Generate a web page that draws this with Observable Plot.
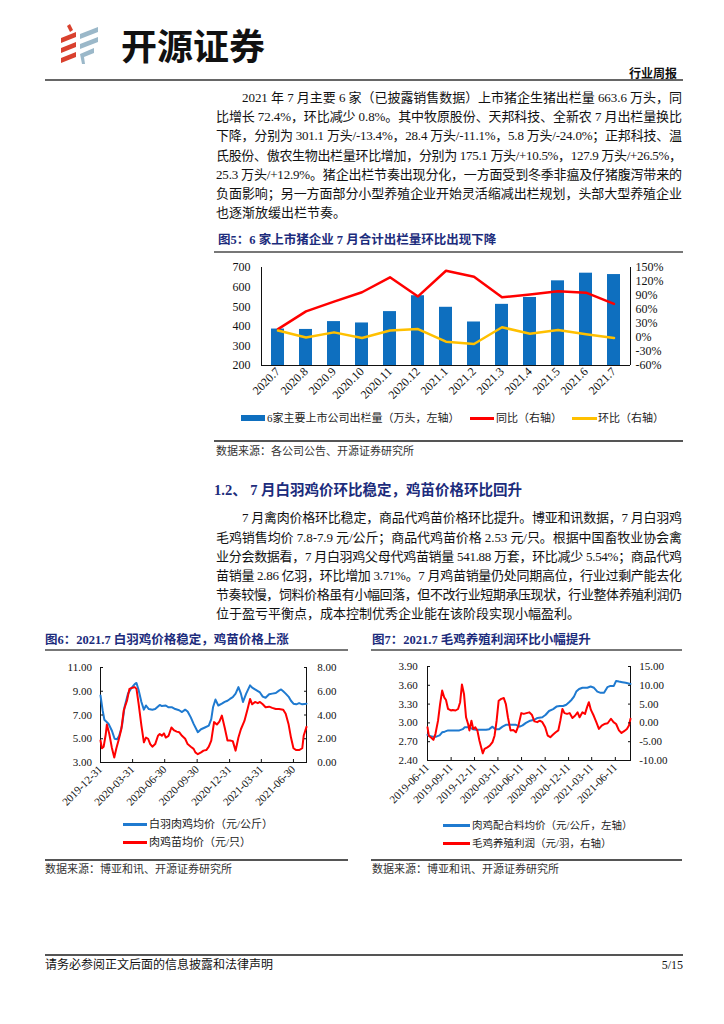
<!DOCTYPE html>
<html><head><meta charset="utf-8">
<script src="https://cdn.jsdelivr.net/npm/d3@7"></script>
<script src="https://cdn.jsdelivr.net/npm/@observablehq/plot@0.6"></script>
<style>
body{margin:0;width:724px;height:1024px;position:relative;background:#fff;font-family:"Liberation Serif","Noto Sans CJK SC",serif;color:#111;overflow:hidden}
.abs{position:absolute}
.para{position:absolute;left:216px;width:466px;font-size:13px;line-height:19.2px}
.para div{white-space:nowrap;height:19.2px}
.ind{padding-left:26px}
.ttl{position:absolute;font-weight:bold;color:#1c2c7c;font-size:12.5px;line-height:14px;white-space:nowrap}
.rule{position:absolute;background:#777;height:1.5px}
.src{position:absolute;font-size:11px;line-height:13px;color:#333;white-space:nowrap}
.lg{position:absolute;font-size:11px;line-height:13px;color:#222;white-space:nowrap}
.sw{position:absolute}
svg{overflow:visible}
</style></head>
<body>
<svg class="abs" style="left:58px;top:24px" width="44" height="42" viewBox="0 0 44 42">
  <polygon points="9,2 12,0 15,6 12,8" fill="#d9412e"/>
  <polygon points="3,14 18,8 18,13 3,19" fill="#d9412e"/>
  <polygon points="3,24 18,18 18,23 3,29" fill="#d9412e"/>
  <polygon points="3,34 18,28 18,33 3,39" fill="#d9412e"/>
  <polygon points="22,10 40,3 40,8 22,15" fill="#9bb8c9"/>
  <polygon points="22,20 40,13 40,18 22,25" fill="#9bb8c9"/>
  <polygon points="22,30 36,24 36,29 26,33 27,40 24,40" fill="#9bb8c9"/>
</svg>
<div class="abs" style="left:121px;top:25px;font:bold 36px/38px 'Noto Sans CJK SC';color:#111;letter-spacing:0px">开源证券</div>
<div class="abs" style="right:47px;top:66px;font:bold 12px/14px 'Noto Sans CJK SC';color:#111">行业周报</div>
<div class="abs" style="left:45px;top:79px;width:638px;height:2px;background:#666"></div>

<div class="para" style="top:88px">
<div class="j ind">2021 年 7 月主要 6 家（已披露销售数据）上市猪企生猪出栏量 663.6 万头，同</div>
<div class="j">比增长 72.4%，环比减少 0.8%。其中牧原股份、天邦科技、全新农 7 月出栏量换比</div>
<div class="j">下降，分别为 301.1 万头/-13.4%，28.4 万头/-11.1%，5.8 万头/-24.0%；正邦科技、温</div>
<div class="j">氏股份、傲农生物出栏量环比增加，分别为 175.1 万头/+10.5%，127.9 万头/+26.5%，</div>
<div class="j">25.3 万头/+12.9%。猪企出栏节奏出现分化，一方面受到冬季非瘟及仔猪腹泻带来的</div>
<div class="j">负面影响；另一方面部分小型养殖企业开始灵活缩减出栏规划，头部大型养殖企业</div>
<div>也逐渐放缓出栏节奏。</div>
</div>

<div class="ttl" style="left:218px;top:233px">图5：6 家上市猪企业 7 月合计出栏量环比出现下降</div>
<div class="rule" style="left:214px;top:251px;width:469px"></div>
<div id="c5" class="abs" style="left:214px;top:255px"></div>
<div class="sw" style="left:241px;top:415px;width:24px;height:6px;background:#0e6fbf"></div>
<div class="lg" style="left:267px;top:411.5px">6家主要上市公司出栏量（万头，左轴）</div>
<div class="sw" style="left:470px;top:417px;width:24px;height:2.5px;background:#ff0000"></div>
<div class="lg" style="left:496px;top:411.5px">同比（右轴）</div>
<div class="sw" style="left:572px;top:417px;width:25px;height:2.5px;background:#ffc000"></div>
<div class="lg" style="left:598px;top:411.5px">环比（右轴）</div>
<div class="rule" style="left:214px;top:440px;width:469px;background:#555"></div>
<div class="src" style="left:216px;top:444.5px">数据来源：各公司公告、开源证券研究所</div>

<div class="ttl" style="left:214px;top:482px;font-size:14.5px;line-height:16px">1.2、 7 月白羽鸡价环比稳定，鸡苗价格环比回升</div>

<div class="para" style="top:508.4px">
<div class="j ind">7 月禽肉价格环比稳定，商品代鸡苗价格环比提升。博亚和讯数据，7 月白羽鸡</div>
<div class="j">毛鸡销售均价 7.8-7.9 元/公斤；商品代鸡苗价格 2.53 元/只。根据中国畜牧业协会禽</div>
<div class="j">业分会数据看，7 月白羽鸡父母代鸡苗销量 541.88 万套，环比减少 5.54%；商品代鸡</div>
<div class="j">苗销量 2.86 亿羽，环比增加 3.71%。7 月鸡苗销量仍处同期高位，行业过剩产能去化</div>
<div class="j">节奏较慢，饲料价格虽有小幅回落，但不改行业短期承压现状，行业整体养殖利润仍</div>
<div>位于盈亏平衡点，成本控制优秀企业能在该阶段实现小幅盈利。</div>
</div>

<div class="ttl" style="left:45px;top:633px">图6：2021.7 白羽鸡价格稳定，鸡苗价格上涨</div>
<div class="rule" style="left:45px;top:649px;width:303px"></div>
<div class="ttl" style="left:372px;top:633px">图7：2021.7 毛鸡养殖利润环比小幅提升</div>
<div class="rule" style="left:371px;top:649px;width:311px"></div>
<div id="c6" class="abs" style="left:45px;top:655px"></div>
<div id="c7" class="abs" style="left:370px;top:655px"></div>
<div class="sw" style="left:123px;top:823px;width:24px;height:2.5px;background:#1f7ad0"></div>
<div class="lg" style="left:149px;top:817.5px">白羽肉鸡均价（元/公斤）</div>
<div class="sw" style="left:123px;top:841px;width:24px;height:2.5px;background:#ff0000"></div>
<div class="lg" style="left:149px;top:835.5px">肉鸡苗均价（元/只）</div>
<div class="sw" style="left:443px;top:824px;width:27px;height:2.5px;background:#1f7ad0"></div>
<div class="lg" style="left:472px;top:818.5px;font-size:10.5px">肉鸡配合料均价（元/公斤，左轴）</div>
<div class="sw" style="left:443px;top:842px;width:27px;height:2.5px;background:#ff0000"></div>
<div class="lg" style="left:472px;top:836.5px;font-size:10.5px">毛鸡养殖利润（元/羽，右轴）</div>
<div class="rule" style="left:45px;top:859px;width:303px;background:#555"></div>
<div class="rule" style="left:371px;top:859px;width:311px;background:#555"></div>
<div class="src" style="left:45px;top:862.5px">数据来源：博亚和讯、开源证券研究所</div>
<div class="src" style="left:372px;top:862.5px">数据来源：博亚和讯、开源证券研究所</div>

<div class="abs" style="left:45px;top:954px;width:638px;height:2px;background:#555"></div>
<div class="abs" style="left:45px;top:958px;font-size:12px;line-height:14px;color:#111">请务必参阅正文后面的信息披露和法律声明</div>
<div class="abs" style="right:41px;top:958px;font-size:12px;line-height:14px;color:#111">5/15</div>

<script>
// ---------- Figure 5 data ----------
const months5 = ["2020.7","2020.8","2020.9","2020.10","2020.11","2020.12","2021.1","2021.2","2021.3","2021.4","2021.5","2021.6","2021.7"];
const volume5 = [386,384,424,417,475,556,497,422,512,547,632,671,664];
const yoy5 = [18,56,77,97,129,88,143,130,86,92,99,96,72];
const mom5 = [15,0,11,-1,15,18,-9,-14,22,8,16,7,-1];
const leftTicks5 = [200,300,400,500,600,700];
const rightTicks5 = [-60,-30,0,30,60,90,120,150];

// ---------- Figure 6 data ----------
const broilerDates6 = ["2019-12-31","2020-01-06","2020-01-11","2020-01-23","2020-02-01","2020-02-09","2020-02-16","2020-02-22","2020-03-01","2020-03-08","2020-03-18","2020-03-27","2020-04-06","2020-04-11","2020-04-17","2020-04-25","2020-05-02","2020-05-08","2020-05-16","2020-05-26","2020-06-03","2020-06-16","2020-06-22","2020-07-03","2020-07-11","2020-07-21","2020-07-30","2020-08-10","2020-08-18","2020-08-27","2020-09-03","2020-09-12","2020-09-20","2020-10-02","2020-10-11","2020-10-22","2020-11-02","2020-11-09","2020-11-14","2020-11-21","2020-11-29","2020-12-09","2020-12-17","2020-12-25","2021-01-01","2021-01-09","2021-01-17","2021-01-25","2021-02-01","2021-02-07","2021-02-16","2021-02-27","2021-03-05","2021-03-13","2021-03-27","2021-04-04","2021-04-12","2021-04-22","2021-05-01","2021-05-11","2021-05-20","2021-05-26","2021-06-01","2021-06-08","2021-06-16","2021-06-23","2021-06-30","2021-07-08","2021-07-16","2021-07-25","2021-08-06"];
const broilerPrice6 = [8.65,7.4,6.6,6.25,5.7,5.0,4.95,5.25,6.1,7.65,8.8,9.25,9.6,9.7,9.1,8.1,7.45,7.8,7.5,7.45,7.5,7.85,7.75,7.8,7.65,7.65,7.5,7.4,7.25,7.45,7.3,6.8,6.25,5.55,5.8,5.95,6.1,6.65,7.65,8.3,7.8,7.95,8.1,8.2,8.35,8.5,8.8,9.35,8.8,8.1,8.8,9.5,9.3,9.15,8.9,8.55,8.45,8.75,8.8,8.85,9.05,9.15,9.0,8.8,8.55,8.2,7.95,7.9,8.0,7.9,7.95];
const chickDates6 = ["2019-12-31","2020-01-04","2020-01-09","2020-01-15","2020-01-18","2020-01-25","2020-02-01","2020-02-08","2020-02-14","2020-02-20","2020-02-28","2020-03-06","2020-03-15","2020-03-22","2020-03-31","2020-04-06","2020-04-11","2020-04-17","2020-04-25","2020-05-02","2020-05-08","2020-05-14","2020-05-20","2020-05-26","2020-06-03","2020-06-11","2020-06-16","2020-06-22","2020-06-28","2020-07-03","2020-07-11","2020-07-19","2020-07-27","2020-08-03","2020-08-10","2020-08-18","2020-08-27","2020-09-03","2020-09-12","2020-09-20","2020-09-25","2020-10-02","2020-10-11","2020-10-18","2020-10-26","2020-11-02","2020-11-09","2020-11-17","2020-11-25","2020-12-02","2020-12-09","2020-12-17","2020-12-25","2021-01-01","2021-01-09","2021-01-17","2021-01-25","2021-02-01","2021-02-11","2021-02-20","2021-02-27","2021-03-05","2021-03-13","2021-03-21","2021-03-27","2021-04-04","2021-04-12","2021-04-22","2021-05-01","2021-05-11","2021-05-20","2021-06-01","2021-06-08","2021-06-16","2021-06-23","2021-06-30","2021-07-08","2021-07-16","2021-07-25","2021-07-29","2021-08-06"];
const chickPrice6 = [1.85,1.2,1.33,2.4,3.2,2.4,1.27,0.42,1.2,1.85,2.8,4.4,5.2,6.2,6.3,6.35,6.2,4.95,3.1,1.7,2.1,2.0,1.55,1.33,1.55,2.25,2.4,2.25,2.45,2.1,2.25,2.95,2.7,2.6,2.55,2.25,2.0,1.55,1.33,1.15,0.85,0.7,0.85,1.0,1.05,1.33,1.85,3.4,3.2,3.45,3.95,2.95,1.85,1.85,1.8,1.0,2.1,2.8,3.5,4.5,5.35,4.9,5.1,5.0,5.1,4.9,4.65,4.7,4.6,4.5,4.5,4.45,4.1,3.25,2.1,1.2,1.05,1.05,1.2,2.25,3.0];
const xTicks6 = ["2019-12-31","2020-03-31","2020-06-30","2020-09-30","2020-12-31","2021-03-31","2021-06-30"];
const leftTicks6 = [3,5,7,9,11];
const rightTicks6 = [0,2,4,6,8];

// ---------- Figure 7 data ----------
const feedDates7 = ["2019-06-11","2019-06-19","2019-07-02","2019-07-15","2019-07-28","2019-08-07","2019-08-17","2019-08-30","2019-09-17","2019-10-13","2019-10-26","2019-11-03","2019-11-21","2019-12-04","2019-12-17","2020-01-05","2020-01-25","2020-02-06","2020-02-19","2020-03-01","2020-03-16","2020-03-29","2020-04-11","2020-05-01","2020-05-20","2020-06-04","2020-06-15","2020-06-28","2020-07-11","2020-07-30","2020-08-12","2020-08-31","2020-09-13","2020-09-26","2020-10-12","2020-10-25","2020-11-07","2020-11-20","2020-12-02","2020-12-13","2020-12-23","2021-01-01","2021-01-10","2021-01-21","2021-02-03","2021-02-22","2021-03-07","2021-03-20","2021-04-02","2021-04-15","2021-04-28","2021-05-11","2021-05-23","2021-06-05","2021-06-14","2021-06-25","2021-07-08","2021-07-21","2021-08-09"];
const feedPrice7 = [2.81,2.79,2.78,2.78,2.80,2.85,2.86,2.88,2.88,2.88,2.90,2.93,2.93,2.90,2.89,2.89,2.89,2.90,2.94,2.90,2.90,2.94,2.97,2.97,2.97,2.94,2.96,3.00,3.03,3.05,3.08,3.09,3.13,3.19,3.22,3.26,3.27,3.27,3.29,3.33,3.37,3.42,3.50,3.54,3.56,3.56,3.58,3.56,3.50,3.48,3.48,3.57,3.59,3.59,3.67,3.66,3.65,3.64,3.62];
const profitDates7 = ["2019-06-11","2019-06-16","2019-06-27","2019-07-04","2019-07-12","2019-07-22","2019-07-30","2019-08-07","2019-08-15","2019-08-22","2019-08-30","2019-09-10","2019-09-17","2019-09-28","2019-10-08","2019-10-16","2019-10-23","2019-10-31","2019-11-08","2019-11-16","2019-11-21","2019-11-29","2019-12-06","2019-12-14","2019-12-22","2019-12-30","2020-01-04","2020-01-12","2020-01-19","2020-01-30","2020-02-09","2020-02-19","2020-02-27","2020-03-06","2020-03-14","2020-03-24","2020-04-03","2020-04-11","2020-04-19","2020-04-29","2020-05-10","2020-05-20","2020-05-30","2020-06-10","2020-06-20","2020-06-30","2020-07-11","2020-07-21","2020-07-31","2020-08-11","2020-08-21","2020-08-31","2020-09-11","2020-09-21","2020-10-01","2020-10-12","2020-10-22","2020-11-01","2020-11-09","2020-11-17","2020-11-25","2020-12-05","2020-12-15","2020-12-26","2021-01-05","2021-01-15","2021-01-23","2021-02-03","2021-02-13","2021-02-21","2021-02-28","2021-03-08","2021-03-19","2021-03-29","2021-04-08","2021-04-19","2021-04-29","2021-05-12","2021-05-25","2021-06-04","2021-06-14","2021-06-25","2021-07-05","2021-07-15","2021-07-26","2021-08-03","2021-08-09"];
const profit7 = [-1.15,-3.4,-4.0,-4.5,-2.9,0.6,5.0,8.6,6.8,6.1,3.7,3.3,3.45,3.3,3.7,5.5,10.2,7.7,1.5,-0.3,-2.0,0.6,-1.6,-1.15,-2.0,-4.7,-6.0,-8.1,-6.9,-6.5,-6.0,-5.1,-3.4,0.6,5.9,6.4,6.6,5.0,1.5,-2.0,-1.9,-2.5,-0.7,2.6,2.4,2.6,2.8,2.2,0.4,0.2,0.6,0.2,-1.15,-3.4,-3.8,-3.1,-2.5,-2.0,0.6,3.7,2.6,2.4,2.6,1.3,1.9,2.8,1.5,2.8,2.4,4.2,5.5,3.45,1.9,0.2,-1.6,-0.7,-0.3,-0.1,1.1,0.2,-0.3,-2.0,-2.7,-2.2,-1.6,-0.7,1.1];
const xTicks7 = ["2019-06-11","2019-09-11","2019-12-11","2020-03-11","2020-06-11","2020-09-11","2020-12-11","2021-03-11","2021-06-11"];
const leftTicks7 = [2.4,2.7,3.0,3.3,3.6,3.9];
const rightTicks7 = [-10,-5,0,5,10,15];

// ---------- helpers ----------
const FONT = "'Liberation Serif','Noto Sans CJK SC',serif";
function sides(list, stroke = "#111") {
  return (index, scales, values, dim) => {
    const {width: w, height: h, marginTop: t, marginRight: r, marginBottom: b, marginLeft: l} = dim;
    const g = d3.create("svg:g").attr("stroke", stroke).attr("stroke-width", 1).attr("shape-rendering", "crispEdges");
    const seg = (x1, y1, x2, y2) => g.append("line").attr("x1", x1).attr("y1", y1).attr("x2", x2).attr("y2", y2);
    if (list.includes("left")) seg(l, t, l, h - b);
    if (list.includes("right")) seg(w - r, t, w - r, h - b);
    if (list.includes("bottom")) seg(l, h - b, w - r, h - b);
    return g.node();
  };
}
const ymd = d3.utcFormat("%Y-%m-%d");
const toDate = s => new Date(s + "T00:00:00Z");

// ---------- Figure 5 ----------
const to5 = v => 200 + (v + 60) * 500 / 210;
const from5 = y => (y - 200) * 210 / 500 - 60;
const table5 = months5.map((m, i) => ({m, v: volume5[i], yoy: yoy5[i], mom: mom5[i]}));
const p5 = Plot.plot({
  width: 469, height: 155, marginLeft: 47, marginRight: 53, marginTop: 12, marginBottom: 45,
  style: {fontFamily: FONT, fontSize: "12px", color: "#111", background: "transparent"},
  x: {type: "band", domain: months5, paddingInner: 0.52, paddingOuter: 0.2, label: null},
  y: {domain: [200, 700], label: null},
  marks: [
    Plot.barY(table5, {x: "m", y1: 200, y2: "v", fill: "#0e6fbf"}),
    Plot.line(table5, {x: "m", y: d => to5(d.yoy), stroke: "#ff0000", strokeWidth: 2.5}),
    Plot.line(table5, {x: "m", y: d => to5(d.mom), stroke: "#ffc000", strokeWidth: 2.5}),
    sides(["left", "right", "bottom"]),
    Plot.axisY(leftTicks5, {anchor: "left", label: null, tickSize: 0, tickPadding: 11, fontSize: 12}),
    Plot.axisY(rightTicks5.map(to5), {anchor: "right", label: null, tickSize: 0, tickPadding: 5, fontSize: 12, tickFormat: d => Math.round(from5(d)) + "%"}),
    Plot.axisX({label: null, tickRotate: -45, tickSize: 0, tickPadding: 4, fontSize: 12})
  ]
});
document.getElementById("c5").append(p5);

// ---------- Figure 6 ----------
const broiler6 = broilerDates6.map((d, i) => ({date: toDate(d), v: broilerPrice6[i]}));
const chick6 = chickDates6.map((d, i) => ({date: toDate(d), v: chickPrice6[i]}));
const to6 = v => v + 3;
const p6 = Plot.plot({
  width: 305, height: 161, marginLeft: 55, marginRight: 44, marginTop: 12, marginBottom: 54,
  style: {fontFamily: FONT, fontSize: "11px", color: "#111", background: "transparent"},
  x: {type: "utc", domain: [toDate(broilerDates6[0]), toDate(broilerDates6[broilerDates6.length - 1])], label: null},
  y: {domain: [3, 11], label: null},
  marks: [
    sides(["left", "right", "bottom"]),
    Plot.line(broiler6, {x: "date", y: "v", stroke: "#1f7ad0", strokeWidth: 2}),
    Plot.line(chick6, {x: "date", y: d => to6(d.v), stroke: "#ff0000", strokeWidth: 2}),
    Plot.axisY(leftTicks6, {anchor: "left", label: null, tickSize: -3, tickPadding: 11.6, tickFormat: d => d.toFixed(2)}),
    Plot.axisY(rightTicks6.map(to6), {anchor: "right", label: null, tickSize: -3, tickPadding: 13.7, tickFormat: d => (d - 3).toFixed(2)}),
    Plot.axisX(xTicks6.map(toDate), {label: null, tickRotate: -45, tickSize: -3, tickPadding: 8, tickFormat: ymd})
  ]
});
document.getElementById("c6").append(p6);

// ---------- Figure 7 ----------
const feed7 = feedDates7.map((d, i) => ({date: toDate(d), v: feedPrice7[i]}));
const prof7 = profitDates7.map((d, i) => ({date: toDate(d), v: profit7[i]}));
const to7 = v => 2.4 + (v + 10) * 1.5 / 25;
const from7 = y => (y - 2.4) * 25 / 1.5 - 10;
const p7 = Plot.plot({
  width: 313, height: 161, marginLeft: 57, marginRight: 53, marginTop: 11, marginBottom: 56,
  style: {fontFamily: FONT, fontSize: "11px", color: "#111", background: "transparent"},
  x: {type: "utc", domain: [toDate(feedDates7[0]), toDate(feedDates7[feedDates7.length - 1])], label: null},
  y: {domain: [2.4, 3.9], label: null},
  marks: [
    sides(["left", "right", "bottom"]),
    Plot.line(feed7, {x: "date", y: "v", stroke: "#1f7ad0", strokeWidth: 2}),
    Plot.line(prof7, {x: "date", y: d => to7(d.v), stroke: "#ff0000", strokeWidth: 2}),
    Plot.axisY(leftTicks7, {anchor: "left", label: null, tickSize: -3, tickPadding: 12.7, tickFormat: d => d.toFixed(2)}),
    Plot.axisY(rightTicks7.map(to7), {anchor: "right", label: null, tickSize: -3, tickPadding: 11.7, tickFormat: d => from7(d).toFixed(2)}),
    Plot.axisX(xTicks7.map(toDate), {label: null, tickRotate: -45, tickSize: -3, tickPadding: 8, tickFormat: ymd})
  ]
});
document.getElementById("c7").append(p7);

// ---------- justify body lines ----------
document.querySelectorAll(".j").forEach(el => {
  const span = document.createElement("span");
  span.textContent = el.textContent;
  el.textContent = "";
  el.appendChild(span);
  const cs = getComputedStyle(el);
  const target = el.clientWidth - parseFloat(cs.paddingLeft) - parseFloat(cs.paddingRight);
  const w = span.getBoundingClientRect().width;
  const n = [...span.textContent].length;
  span.style.letterSpacing = ((target - w) / (n - 1)) + "px";
});
</script>
</body></html>
